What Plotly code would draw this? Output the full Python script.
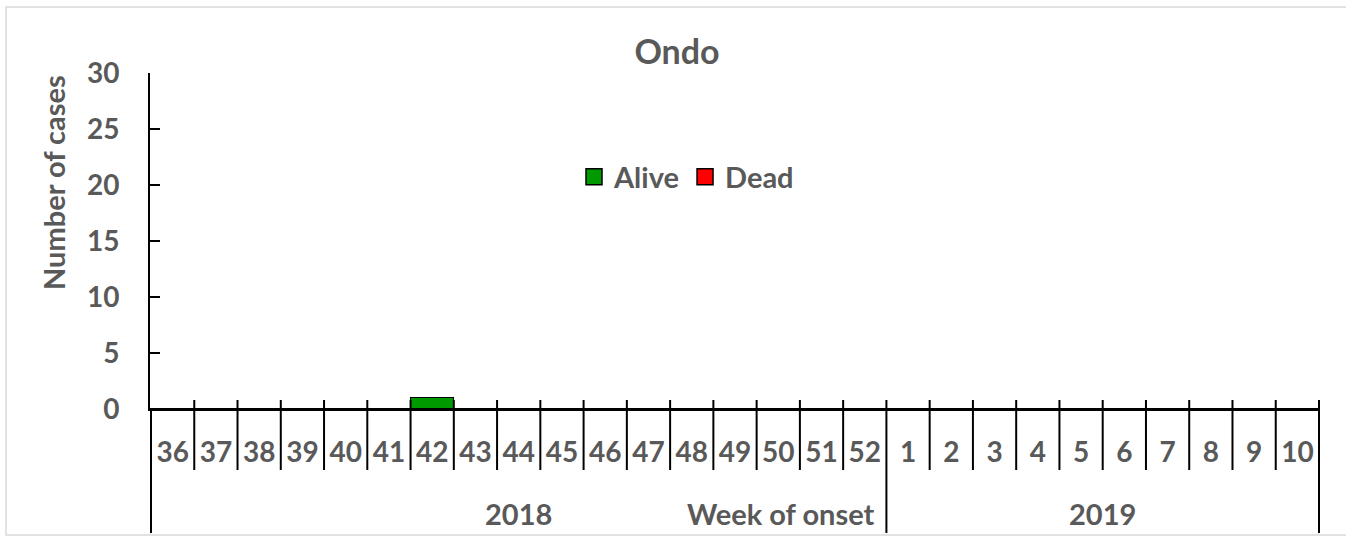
import plotly.graph_objects as go

weeks_2018 = [str(w) for w in range(36, 53)]
weeks_2019 = [str(w) for w in range(1, 11)]
weeks = weeks_2018 + weeks_2019
alive = [0, 0, 0, 0, 0, 0, 1, 0, 0, 0, 0, 0, 0, 0, 0, 0, 0,
         0, 0, 0, 0, 0, 0, 0, 0, 0, 0]
dead = [0] * len(weeks)
years = ["2018", "2019"]
series_names = ["Alive", "Dead"]
series_colors = ["#009900", "#ff0000"]

FONT = "Lato"
GRAY = "#595959"
FS_TICK = 28
FS_LBL = 29
FS_TITLE = 34

fig = go.Figure()
for name, vals, col in zip(series_names, [alive, dead], series_colors):
    fig.add_trace(go.Bar(x=weeks, y=vals, name=name, showlegend=False,
                         marker=dict(color=col, line=dict(color="black", width=1.5))))
# legend entries
for name, col in zip(series_names, series_colors):
    fig.add_trace(go.Scatter(x=[None], y=[None], mode="markers", name="<b>%s</b>" % name,
                             marker=dict(symbol="square", size=17, color=col,
                                         line=dict(color="black", width=1.5))))

H = 336.0
W = 1170.0
def py(pix):
    return (409 - pix) / H
def px(pix):
    return (pix - 150) / W

shapes = []
n = len(weeks)
n18 = len(weeks_2018)
for i in range(1, n + 1):
    x = i - 0.5
    bottom = 533 if (i == n18 or i == n) else 470
    shapes.append(dict(type="line", xref="x", yref="paper", x0=x, x1=x, y0=py(400), y1=py(bottom),
                       line=dict(color="black", width=2)))
shapes.append(dict(type="line", xref="x", yref="paper", x0=-0.5, x1=-0.5, y0=0, y1=py(533),
                   line=dict(color="black", width=2)))
shapes.append(dict(type="rect", xref="paper", yref="paper", x0=px(6), x1=px(1352),
                   y0=py(535), y1=py(7), line=dict(color="#d9d9d9", width=1.5), layer="below"))

annotations = [
    dict(text="<b>%s</b>" % years[0], xref="x", yref="paper", x=(n18 - 1) / 2.0, y=py(513),
         xanchor="center", yanchor="middle", showarrow=False,
         font=dict(family=FONT, size=FS_LBL, color=GRAY)),
    dict(text="<b>%s</b>" % years[1], xref="x", yref="paper", x=n18 + (len(weeks_2019) - 1) / 2.0, y=py(513),
         xanchor="center", yanchor="middle", showarrow=False,
         font=dict(family=FONT, size=FS_LBL, color=GRAY)),
    dict(text="<b>Week of onset</b>", xref="paper", yref="paper", x=px(877), y=py(513),
         xanchor="right", yanchor="middle", showarrow=False,
         font=dict(family=FONT, size=FS_LBL, color=GRAY)),
    dict(text="<b>Number of cases</b>", xref="paper", yref="paper", x=px(53), y=py(183),
         xanchor="center", yanchor="middle", textangle=-90, showarrow=False,
         font=dict(family=FONT, size=FS_LBL, color=GRAY)),
]

fig.update_layout(
    width=1346, height=537,
    margin=dict(l=150, r=26, t=73, b=128),
    paper_bgcolor="white", plot_bgcolor="white",
    barmode="stack", bargap=0,
    title=dict(text="<b>Ondo</b>", x=px(677), xanchor="center", y=1 - 52 / 537.0, yanchor="middle",
               xref="paper", font=dict(family=FONT, size=FS_TITLE, color=GRAY)),
    legend=dict(orientation="h", x=px(574), y=py(177), xanchor="left", yanchor="middle",
                font=dict(family=FONT, size=FS_LBL, color=GRAY), bgcolor="rgba(0,0,0,0)",
                itemsizing="trace", traceorder="normal"),
    shapes=shapes,
    annotations=annotations,
)
fig.update_xaxes(type="category", categoryorder="array", categoryarray=weeks,
                 tickvals=weeks, ticktext=["<b>%s</b>" % w for w in weeks],
                 tickfont=dict(family=FONT, size=FS_TICK, color=GRAY),
                 showline=True, linecolor="black", linewidth=2, ticks="", showgrid=False,
                 ticklabelstandoff=17, zeroline=False)
fig.update_yaxes(range=[0, 30], tickvals=[0, 5, 10, 15, 20, 25, 30],
                 ticktext=["<b>%d</b>" % v for v in [0, 5, 10, 15, 20, 25, 30]],
                 tickfont=dict(family=FONT, size=FS_TICK, color=GRAY),
                 showline=True, linecolor="black", linewidth=2, ticks="inside", ticklen=10,
                 tickwidth=2, tickcolor="black", showgrid=False, zeroline=False, ticklabelstandoff=23)

fig.write_html("out.html", config={"displayModeBar": False},
               post_script="document.body.style.margin='0';document.body.style.overflow='hidden';")
